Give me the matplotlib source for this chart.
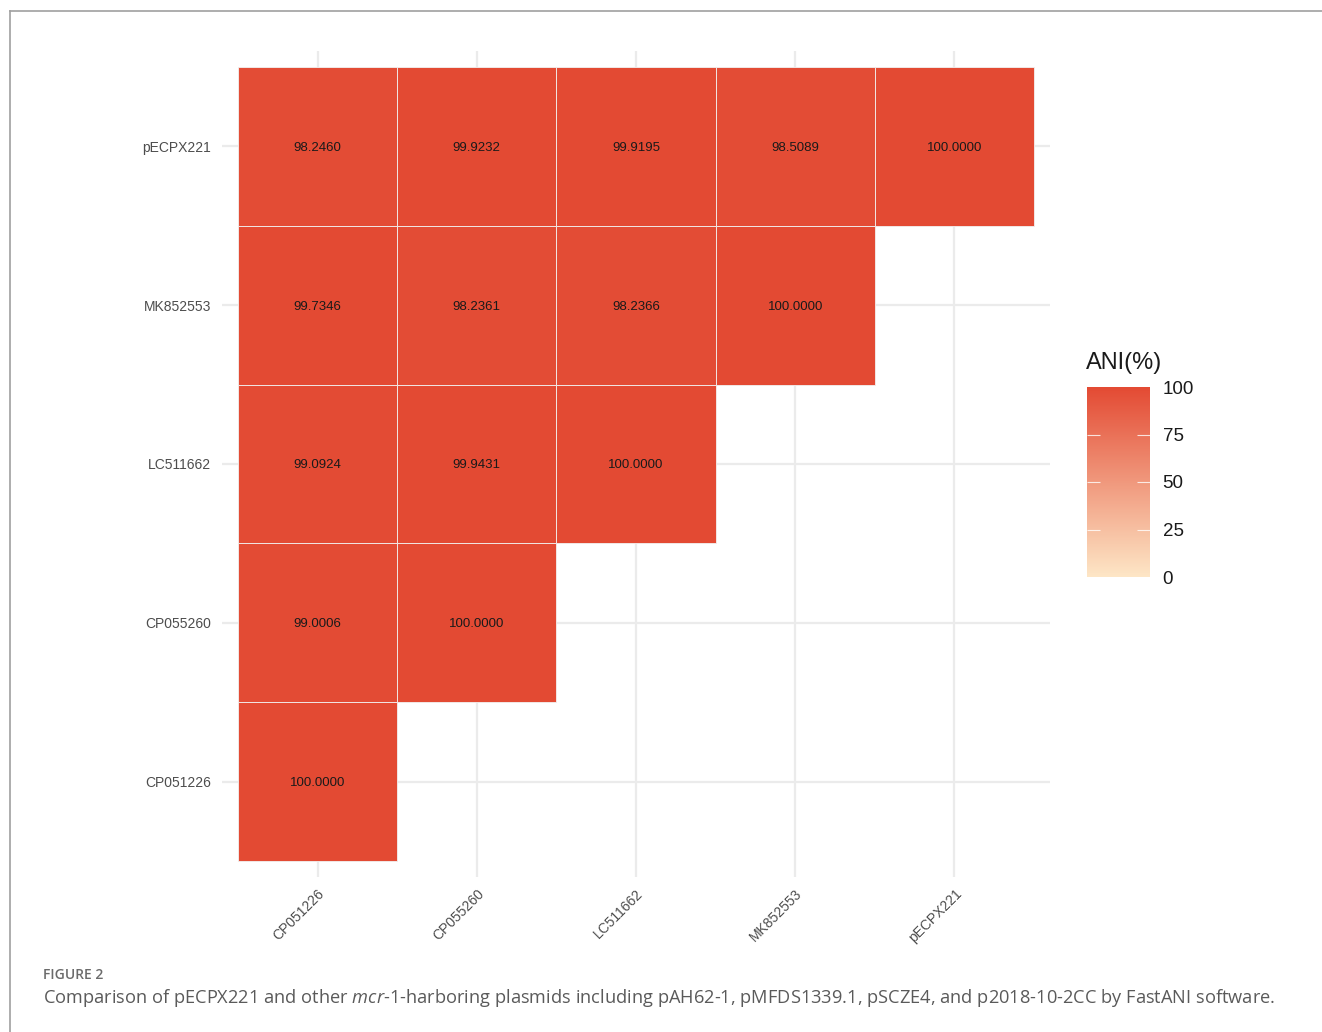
import numpy as np
import matplotlib
matplotlib.use("Agg")
import matplotlib.pyplot as plt
from matplotlib.colors import LinearSegmentedColormap, Normalize
from matplotlib.lines import Line2D

plt.rcParams["mathtext.fontset"] = "custom"
plt.rcParams["mathtext.it"] = "Open Sans:italic"
plt.rcParams["mathtext.rm"] = "Open Sans"

# plasmid names, bottom-to-top on y and left-to-right on x
plasmids = ["CP051226", "CP055260", "LC511662", "MK852553", "pECPX221"]

# ANI values per row (row = y plasmid), one entry per x plasmid; None = empty cell
row_CP051226 = [100.0000, None, None, None, None]
row_CP055260 = [99.0006, 100.0000, None, None, None]
row_LC511662 = [99.0924, 99.9431, 100.0000, None, None]
row_MK852553 = [99.7346, 98.2361, 98.2366, 100.0000, None]
row_pECPX221 = [98.2460, 99.9232, 99.9195, 98.5089, 100.0000]

cbar_ticks = [0, 25, 50, 75, 100]

rows = [row_CP051226, row_CP055260, row_LC511662, row_MK852553, row_pECPX221]

W, H = 1322, 1032
fig = plt.figure(figsize=(W / 100, H / 100), dpi=100)

cmap = LinearSegmentedColormap.from_list("ani", ["#FDE6C6", "#E34A33"])
norm = Normalize(0, 100)

# main panel (pixel coords converted to figure fractions)
ax = fig.add_axes([222 / W, 1 - 877 / H, 828 / W, 826 / H])
for x in range(len(plasmids)):
    ax.axvline(x, color="#EBEBEB", lw=1.6, zorder=0)
    ax.axhline(x, color="#EBEBEB", lw=1.6, zorder=0)

# tiles
for i, r in enumerate(rows):
    for j, v in enumerate(r):
        if v is None:
            continue
        ax.bar(j, 1, width=1, bottom=i - 0.5, color=cmap(norm(v)),
               edgecolor="#F2F2F2", linewidth=0.6, zorder=2)
        ax.text(j, i, f"{v:.4f}", ha="center", va="center_baseline",
                fontsize=9.5, color="#1a1a1a", family="Liberation Sans", zorder=3)

ax.set_xlim(-0.6, 4.6)
ax.set_ylim(-0.6, 4.6)
ax.set_xticks(range(len(plasmids)))
ax.set_yticks(range(len(plasmids)))
ax.set_xticklabels(plasmids, rotation=45, ha="right", va="top",
                   rotation_mode="anchor", family="Liberation Sans",
                   fontsize=10, color="#4D4D4D")
ax.set_yticklabels(plasmids, family="Liberation Sans", fontsize=10, color="#4D4D4D")
ax.tick_params(length=0)
ax.tick_params(axis="x", pad=7)
ax.tick_params(axis="y", pad=8)
for s in ax.spines.values():
    s.set_visible(False)

# colour bar legend
cax = fig.add_axes([1087 / W, 1 - 577 / H, 63 / W, 190 / H])
sm = plt.cm.ScalarMappable(norm=norm, cmap=cmap)
cb = fig.colorbar(sm, cax=cax, ticks=cbar_ticks)
cb.outline.set_visible(False)
cax.tick_params(length=0, pad=9, labelsize=13.5, colors="#1a1a1a")
for lab in cax.get_yticklabels():
    lab.set_family("Liberation Sans")
cax.hlines([25, 50, 75], 0, 0.2, colors="white", lw=0.8, alpha=0.8,
           transform=cax.get_yaxis_transform())
cax.hlines([25, 50, 75], 0.8, 1, colors="white", lw=0.8, alpha=0.8,
           transform=cax.get_yaxis_transform())
fig.text(1086 / W, 1 - 363 / H, "ANI(%)", fontsize=17, family="Liberation Sans",
         color="#1a1a1a", ha="left", va="center")

# outer frame (top and left rules)
fig.add_artist(Line2D([10 / W, 10 / W], [0, 1 - 11 / H], color="#A0A0A0", lw=1.2,
                      transform=fig.transFigure))
fig.add_artist(Line2D([10 / W, 1], [1 - 11 / H, 1 - 11 / H], color="#A0A0A0", lw=1.2,
                      transform=fig.transFigure))

# caption
fig.text(43 / W, 1 - 975 / H, "FIGURE 2", fontsize=10, family="Open Sans",
         weight="semibold", color="#6b6b6b", ha="left", va="center")
fig.text(43 / W, 1 - 998 / H,
         "Comparison of pECPX221 and other $\\it{mcr}$-$\\it{1}$-harboring plasmids including "
         "pAH62-1, pMFDS1339.1, pSCZE4, and p2018-10-2CC by FastANI software.",
         fontsize=13.15, family="Open Sans", color="#5a5a5a", ha="left", va="center")

fig.savefig("out.png", dpi=100)
